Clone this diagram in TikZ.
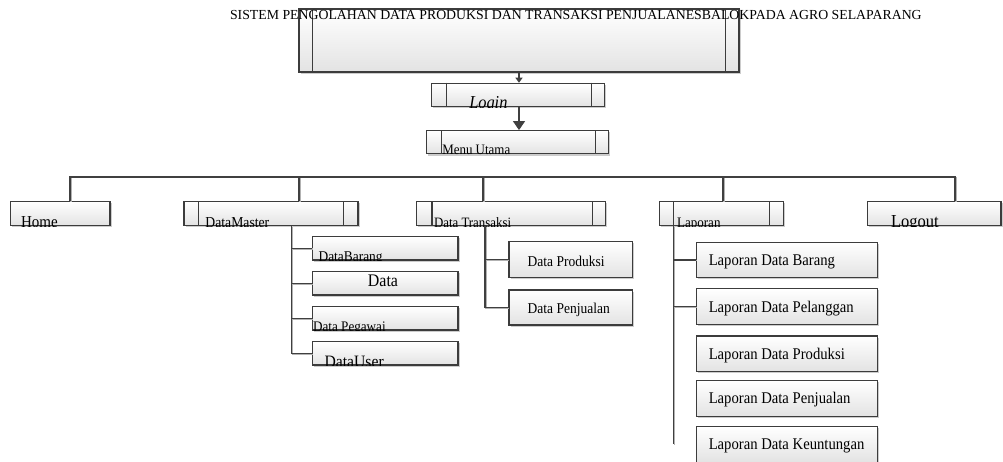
\documentclass[tikz,border=0pt]{standalone}
\usepackage{fontspec}
\setmainfont{Liberation Serif}[FakeStretch=0.9]
\newfontfamily\titlefont{Liberation Serif}
\usetikzlibrary{arrows.meta,shadows}
\definecolor{edge}{HTML}{3C3C3C}
\definecolor{wire}{HTML}{404040}
\tikzset{
  x=1pt, y=-1pt,
  box/.style={draw=edge, line width=1.1pt, top color=white, bottom color=black!11,
    inner sep=0pt, rectangle,
    drop shadow={shadow xshift=1.6pt, shadow yshift=-1.6pt, fill=black, opacity=0.2}},
  bar/.style={draw=edge, line width=1.1pt},
  wirestyle/.style={draw=wire, line width=1.2pt,
    preaction={draw=black!30, line width=1.2pt, transform canvas={xshift=1pt, yshift=-0.8pt}}},
  lbl/.style={inner sep=0pt, outer sep=0pt, text=black},
  fs/.style={font=\fontsize{#1}{#1}\selectfont},
}
\begin{document}
\begin{tikzpicture}
\useasboundingbox (0,0) rectangle (1003,462);

% ---------- top level ----------
\node[box, minimum width=440pt, minimum height=63pt] (sys) at (519,40.5) {};
\draw[bar] ([xshift=14pt]sys.north west) -- ([xshift=14pt]sys.south west);
\draw[bar] ([xshift=-14pt]sys.north east) -- ([xshift=-14pt]sys.south east);
\node[lbl, anchor=base west, font=\titlefont\fontsize{13.8}{13.8}\selectfont] (systxt) at (230,19.8)
  {SISTEM PENGOLAHAN DATA PRODUKSI DAN TRANSAKSI PENJUALANESBALOKPADA AGRO SELAPARANG};

\node[box, minimum width=173pt, minimum height=23.4pt] (login) at (518.3,95) {};
\draw[bar] ([xshift=15pt]login.north west) -- ([xshift=15pt]login.south west);
\draw[bar] ([xshift=-14pt]login.north east) -- ([xshift=-14pt]login.south east);
\begin{scope}
  \clip (login.north west) rectangle (login.south east);
  \node[lbl, anchor=base west, fs=18.2] (logintxt) at ([xshift=38pt,yshift=-1.5pt]login.south west) {\itshape Login};
\end{scope}

\node[box, minimum width=182pt, minimum height=23.3pt] (menu) at (517.8,142.3) {};
\draw[bar] ([xshift=15pt]menu.north west) -- ([xshift=15pt]menu.south west);
\draw[bar] ([xshift=-14pt]menu.north east) -- ([xshift=-14pt]menu.south east);
\begin{scope}
  \clip (menu.north west) rectangle (menu.south east);
  \node[lbl, anchor=base west, fs=14.4] (menutxt) at ([xshift=16pt,yshift=-0.5pt]menu.south west) {Menu Utama};
\end{scope}

\draw[draw=wire, line width=1.2pt, -{Triangle[width=7pt,length=5pt]}] (sys.south) -- (sys.south |- login.north);
\draw[draw=wire, line width=1.2pt, -{Triangle[width=12pt,length=9pt]}] (login.south -| sys.south) -- (sys.south |- menu.north);

% ---------- menu row ----------
\node[box, minimum width=99.3pt, minimum height=24pt] (home) at (60.3,213.7) {};
\node[box, minimum width=174pt, minimum height=24pt] (dm) at (271,213.7) {};
\node[box, minimum width=189.3pt, minimum height=24pt] (dt) at (511.2,213.7) {};
\node[box, minimum width=124.2pt, minimum height=24pt] (lap) at (721.7,213.7) {};
\node[box, minimum width=133.3pt, minimum height=24pt] (logout) at (934.3,213.7) {};
\foreach \n/\l/\r in {dm/15/15, dt/16/14, lap/14/15}{
  \draw[bar] ([xshift=\l pt]\n.north west) -- ([xshift=\l pt]\n.south west);
  \draw[bar] ([xshift=-\r pt]\n.north east) -- ([xshift=-\r pt]\n.south east);
}
\begin{scope}
  \clip (home.north west) rectangle (home.south east);
  \node[lbl, anchor=base west, fs=16.7] (hometxt) at ([xshift=11pt,yshift=-1pt]home.south west) {Home};
\end{scope}
\begin{scope}
  \clip (dm.north west) rectangle (dm.south east);
  \node[lbl, anchor=base west, fs=15.2] (dmtxt) at ([xshift=22pt,yshift=-1pt]dm.south west) {DataMaster};
\end{scope}
\begin{scope}
  \clip (dt.north west) rectangle (dt.south east);
  \node[lbl, anchor=base west, fs=14.3] (dttxt) at ([xshift=18pt,yshift=-1pt]dt.south west) {Data Transaksi};
\end{scope}
\begin{scope}
  \clip (lap.north west) rectangle (lap.south east);
  \node[lbl, anchor=base west, fs=14.5] (laptxt) at ([xshift=18pt,yshift=-1pt]lap.south west) {Laporan};
\end{scope}
\begin{scope}
  \clip (logout.north west) rectangle (logout.south east);
  \node[lbl, anchor=base west, fs=18.3] (logouttxt) at ([xshift=24pt,yshift=-1.5pt]logout.south west) {Logout};
\end{scope}

% bus from the menu row
\coordinate (b1) at (70,177);
\coordinate (b2) at (299,177);
\coordinate (b3) at (483,177);
\coordinate (b4) at (723,177);
\coordinate (b5) at (955,177);
\draw[wirestyle] (home.north -| b1) -- (b1) -- (b5) -- (logout.north -| b5);
\draw[wirestyle] (b2) -- (dm.north -| b2);
\draw[wirestyle] (b3) -- (dt.north -| b3);
\draw[wirestyle] (b4) -- (lap.north -| b4);

% ---------- DataMaster items ----------
\foreach \i/\y in {1/248.3, 2/283.3, 3/318.3, 4/353.3}{
  \node[box, minimum width=145.3pt, minimum height=23.3pt] (dm\i) at (385.3,\y) {};
}
\begin{scope}
  \clip (dm1.north west) rectangle (dm1.south east);
  \node[lbl, anchor=base west, fs=14.9] (dm1txt) at ([xshift=6.5pt,yshift=-1pt]dm1.south west) {DataBarang};
\end{scope}
\node[lbl, anchor=base, fs=17.7] (dm2txt) at (383,286.7) {Data};
\begin{scope}
  \clip (dm3.north west) rectangle (dm3.south east);
  \node[lbl, anchor=base west, fs=14.6] (dm3txt) at ([xshift=1pt,yshift=-1pt]dm3.south west) {Data Pegawai};
\end{scope}
\begin{scope}
  \clip (dm4.north west) rectangle (dm4.south east);
  \node[lbl, anchor=base west, fs=17.4] (dm4txt) at ([xshift=12.5pt,yshift=-1.5pt]dm4.south west) {DataUser};
\end{scope}
\coordinate (dmtrunk) at (291.7,226);
\draw[wirestyle] (dmtrunk) -- (dmtrunk |- dm4.west) -- (dm4.west);
\foreach \i in {1,2,3}{
  \draw[wirestyle] (dmtrunk |- dm\i.west) -- (dm\i.west);
}

% ---------- Data Transaksi items ----------
\node[box, minimum width=123.7pt, minimum height=36pt] (dt1) at (570.8,259.7) {};
\node[box, minimum width=123.7pt, minimum height=35pt] (dt2) at (570.8,307.5) {};
\node[lbl, anchor=base west, fs=15] (dt1txt) at ([xshift=19.3pt,yshift=-7pt]dt1.west) {Data Produksi};
\node[lbl, anchor=base west, fs=15] (dt2txt) at ([xshift=19.3pt,yshift=-6pt]dt2.west) {Data Penjualan};
\coordinate (dttrunk) at (485,226);
\draw[wirestyle] (dttrunk) -- (dttrunk |- dt2.west) -- (dt2.west);
\draw[wirestyle] (dttrunk |- dt1.west) -- (dt1.west);

% ---------- Laporan items ----------
\foreach \i/\y/\t in {1/260/Laporan Data Barang, 2/306.5/Laporan Data Pelanggan,
    3/353.7/Laporan Data Produksi, 4/398.3/Laporan Data Penjualan, 5/444.3/Laporan Data Keuntungan}{
  \node[box, minimum width=181pt, minimum height=35.5pt] (lap\i) at (787.2,\y) {};
  \node[lbl, anchor=base west, fs=16.3] (lap\i txt) at ([xshift=12.6pt,yshift=-5.5pt]lap\i.west) {\t};
}
\coordinate (laptrunk) at (673.3,226);
\draw[wirestyle] (laptrunk) -- (laptrunk |- lap5.west);
\draw[wirestyle] (laptrunk |- lap1.west) -- (lap1.west);
\draw[wirestyle] (laptrunk |- lap2.west) -- (lap2.west);
\end{tikzpicture}
\end{document}
